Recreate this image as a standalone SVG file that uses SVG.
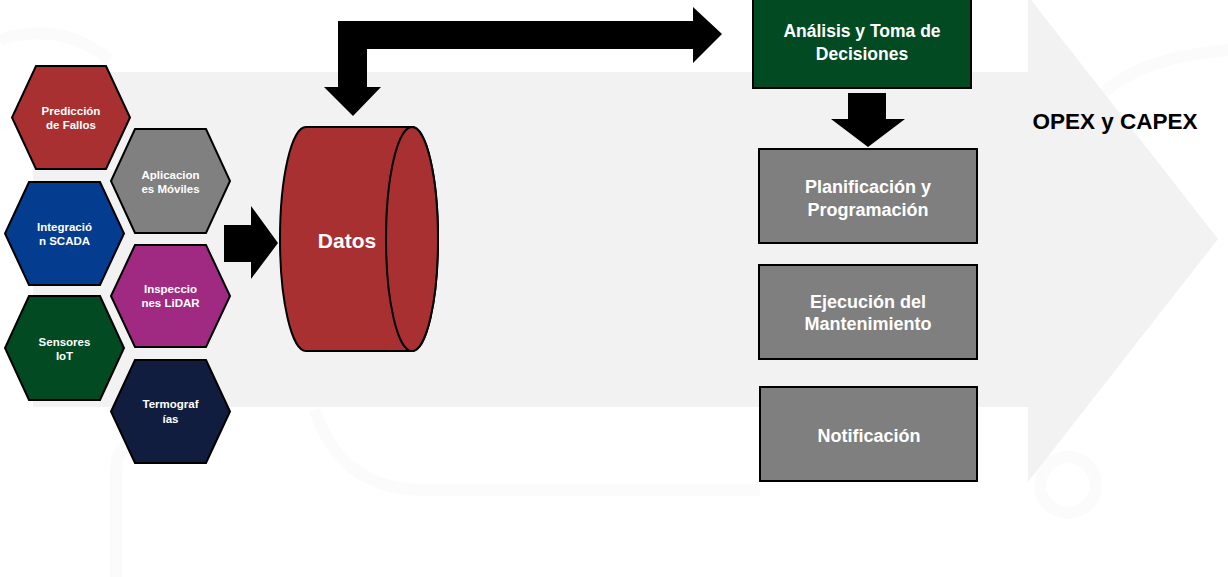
<svg xmlns="http://www.w3.org/2000/svg" width="1228" height="577" viewBox="0 0 1228 577">
  <style>
    .hex { stroke: #000; stroke-width: 2; stroke-linejoin: miter; }
    .hext { font-family: "Liberation Sans", Arial, sans-serif; font-weight: bold; font-size: 11.5px; fill: #fff; text-anchor: middle; }
    .box { stroke: #000; stroke-width: 2; }
    .gbox { fill: #7f7f7f; }
    .boxt { font-family: "Liberation Sans", Arial, sans-serif; font-weight: bold; font-size: 18px; fill: #fff; text-anchor: middle; }
    .arrow { fill: #000; }
    .wm { fill: none; stroke: #fbfbfb; stroke-width: 12; }
  </style>

  <rect x="0" y="0" width="1228" height="577" fill="#ffffff"/>

  <!-- faint watermark -->
  <g id="watermark">
    <path class="wm" d="M0,40 Q60,20 110,60"/>
    <path class="wm" d="M116,577 L116,470 Q116,445 140,440"/>
    <path class="wm" d="M315,410 Q340,488 420,490 L760,490"/>
    <path class="wm" d="M1090,110 Q1120,60 1228,50"/>
    <circle cx="1068" cy="485" r="28" fill="none" stroke="#fbfbfb" stroke-width="12"/>
  </g>

  <!-- background big arrow -->
  <g id="background-arrow">
    <polygon points="33,72 1028,72 1028,-4 1218,239 1028,482 1028,407 33,407" fill="#f2f2f2"/>
  </g>

  <!-- hexagons -->
  <g id="hex-prediccion">
    <polygon class="hex" fill="#a93030" points="36,66 106,66 130,117.5 106,169 36,169 12,117.5"/>
    <text class="hext" x="71" y="115">Predicción</text>
    <text class="hext" x="71" y="129">de Fallos</text>
  </g>
  <g id="hex-aplicaciones">
    <polygon class="hex" fill="#808080" points="135,129 206,129 230,181 206,233 135,233 111,181"/>
    <text class="hext" x="170.5" y="179">Aplicacion</text>
    <text class="hext" x="170.5" y="193">es Móviles</text>
  </g>
  <g id="hex-integracion">
    <polygon class="hex" fill="#043c8f" points="29,182 100,182 124,233.5 100,285 29,285 5,233.5"/>
    <text class="hext" x="64.5" y="231">Integració</text>
    <text class="hext" x="64.5" y="245">n SCADA</text>
  </g>
  <g id="hex-inspecciones">
    <polygon class="hex" fill="#a02a82" points="135,245 206,245 230,296 206,347 135,347 111,296"/>
    <text class="hext" x="170.5" y="293">Inspeccio</text>
    <text class="hext" x="170.5" y="307">nes LiDAR</text>
  </g>
  <g id="hex-sensores">
    <polygon class="hex" fill="#014a22" points="29,296 100,296 124,348 100,400 29,400 5,348"/>
    <text class="hext" x="64.5" y="346">Sensores</text>
    <text class="hext" x="64.5" y="360">IoT</text>
  </g>
  <g id="hex-termografias">
    <polygon class="hex" fill="#111d3f" points="135,360 206,360 230,411.5 206,463 135,463 111,411.5"/>
    <text class="hext" x="170.5" y="408">Termograf</text>
    <text class="hext" x="170.5" y="423">ías</text>
  </g>

  <!-- Datos cylinder -->
  <g id="datos">
    <path class="box" fill="#a93030" d="M306,127 L412,127 A26,112 0 0 1 412,351 L306,351 A26,112 0 0 1 306,127 Z"/>
    <ellipse class="box" fill="#a93030" cx="412" cy="239" rx="26" ry="112"/>
    <text x="347" y="248" font-family="Liberation Sans, Arial, sans-serif" font-weight="bold" font-size="21" fill="#fff" text-anchor="middle">Datos</text>
  </g>

  <!-- Análisis -->
  <g id="analisis">
    <rect class="box" x="753" y="-4" width="218" height="92" fill="#014a22"/>
    <text x="862" y="37" font-family="Liberation Sans, Arial, sans-serif" font-weight="bold" font-size="17.5" fill="#fff" text-anchor="middle">Análisis y Toma de</text>
    <text x="862" y="60" font-family="Liberation Sans, Arial, sans-serif" font-weight="bold" font-size="17.5" fill="#fff" text-anchor="middle">Decisiones</text>
  </g>

  <g id="planificacion">
    <rect class="box gbox" x="759" y="149" width="218" height="94"/>
    <text class="boxt" x="868" y="193">Planificación y</text>
    <text class="boxt" x="868" y="216">Programación</text>
  </g>
  <g id="ejecucion">
    <rect class="box gbox" x="759" y="265" width="218" height="94"/>
    <text class="boxt" x="868" y="308">Ejecución del</text>
    <text class="boxt" x="868" y="330">Mantenimiento</text>
  </g>
  <g id="notificacion">
    <rect class="box gbox" x="760" y="387" width="217" height="94"/>
    <text class="boxt" x="869" y="442">Notificación</text>
  </g>

  <g id="opex">
    <text x="1115" y="129" font-family="Liberation Sans, Arial, sans-serif" font-weight="bold" font-size="22.5" fill="#000" text-anchor="middle">OPEX y CAPEX</text>
  </g>

  <!-- connectors -->
  <g id="connectors">
    <path class="arrow" d="M224,225 L251,225 L251,206 L278,243 L251,279 L251,262 L224,262 Z"/>
    <path class="arrow" d="M338,21 L693,21 L693,7 L722,34 L693,63 L693,49 L367,49 L367,87 L381,87 L353,116 L324,87 L338,87 Z"/>
    <path class="arrow" d="M848,93 L886,93 L886,119 L905,119 L868,147 L831,119 L848,119 Z"/>
  </g>
</svg>
